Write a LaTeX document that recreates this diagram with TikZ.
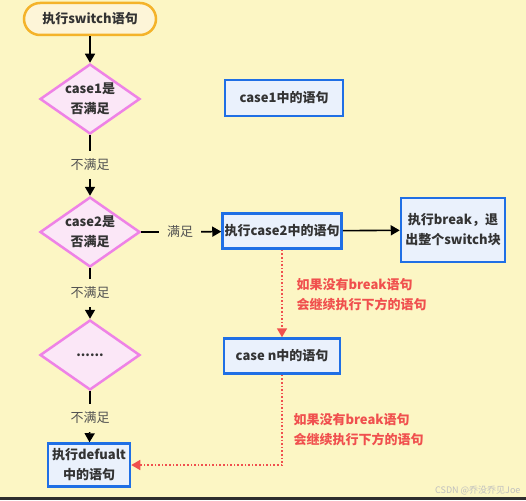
\documentclass[tikz,border=0pt]{standalone}
\usepackage{fontspec}
\setmainfont{Noto Sans CJK SC}
\usetikzlibrary{shapes.geometric,arrows.meta}

\definecolor{bgyellow}{HTML}{FCF6C4}
\definecolor{startline}{HTML}{F4B32A}
\definecolor{startfill}{HTML}{FDF5D8}
\definecolor{condline}{HTML}{EE82E6}
\definecolor{condfill}{HTML}{FBE7F7}
\definecolor{stmtline}{HTML}{1F6FE5}
\definecolor{stmtfill}{HTML}{EAF1FC}
\definecolor{noteline}{HTML}{F0504E}
\definecolor{textgray}{HTML}{333333}

\newcommand{\boxfont}{\fontsize{13}{20}\selectfont\bfseries}

\tikzset{
    startbox/.style={draw=startline, fill=startfill, line width=2.5pt, rounded corners=16pt,
        minimum width=132pt, minimum height=32pt, font=\boxfont, text=textgray},
    condbox/.style={diamond, draw=condline, fill=condfill, line width=2.5pt, aspect=1.43,
        inner sep=0pt, minimum width=100pt, minimum height=70pt, align=center,
        font=\boxfont, text=textgray},
    stmtbox/.style={draw=stmtline, fill=stmtfill, line width=2.5pt, inner sep=2pt,
        align=center, font=\boxfont, text=textgray},
    flowlabel/.style={inner sep=8pt, text=textgray!85, font=\fontsize{13}{20}\selectfont},
    notetext/.style={align=left, font=\boxfont, text=noteline, anchor=west},
    flow/.style={line width=1.6pt, -{Triangle[length=9pt,width=10pt]}},
    redflow/.style={noteline, line width=1.6pt, dotted, -{Triangle[length=9pt,width=10pt]}},
}

\begin{document}
\begin{tikzpicture}[x=1pt, y=-1pt]
    % background
    \fill[bgyellow] (0,0) rectangle (526,497);
    \fill[black!82] (0,497) rectangle (526,500);

    % left column
    \node[startbox] (start) at (90,19) {执行switch语句};
    \node[condbox] (case1q) at (90,99) {case1是\\否满足};
    \node[condbox] (case2q) at (90,232) {case2是\\否满足};
    \node[condbox] (casenq) at (90,355) {......};
    \node[stmtbox, minimum width=82pt, minimum height=43pt] (dflt) at (89,465) {执行defualt\\中的语句};

    \node[flowlabel] (no1) at (90,165) {不满足};
    \node[flowlabel] (no2) at (90,293) {不满足};
    \node[flowlabel] (no3) at (90,418) {不满足};
    \node[flowlabel] (yes2) at (180,232) {满足};

    % right column
    \node[stmtbox, minimum width=118pt, minimum height=36pt] (case1) at (284,98) {case1中的语句};
    \node[stmtbox, minimum width=116pt, minimum height=35pt] (case2) at (282,231) {执行case2中的语句};
    \node[stmtbox, minimum width=104pt, minimum height=64pt] (brk) at (453,230) {执行break，退\\出整个switch块};
    \node[stmtbox, minimum width=116pt, minimum height=35pt] (casen) at (282,356) {case n中的语句};

    \node[notetext] (note1) at (293,295) {如果没有break语句\\会继续执行下方的语句};
    \node[notetext] (note2) at (290,430) {如果没有break语句\\会继续执行下方的语句};

    % connectors
    \draw[flow] (start) -- (case1q);
    \draw[line width=1.6pt] (case1q) -- (no1);
    \draw[flow] (no1) -- (case2q);
    \draw[line width=1.6pt] (case2q) -- (no2);
    \draw[flow] (no2) -- (casenq);
    \draw[line width=1.6pt] (casenq) -- (no3);
    \draw[flow] (no3) -- (dflt);
    \draw[line width=1.6pt] (case2q) -- (yes2);
    \draw[flow] (yes2) -- (case2);
    \draw[flow] (case2) -- (brk);
    \draw[redflow] (case2) -- (casen);
    \draw[redflow] (casen.south) |- (dflt.east);

    % watermark
    \node[text=black!25, font=\fontsize{9}{10}\selectfont, anchor=east] (mark) at (524,491) {CSDN @乔没乔见Joe};
\end{tikzpicture}
\end{document}
